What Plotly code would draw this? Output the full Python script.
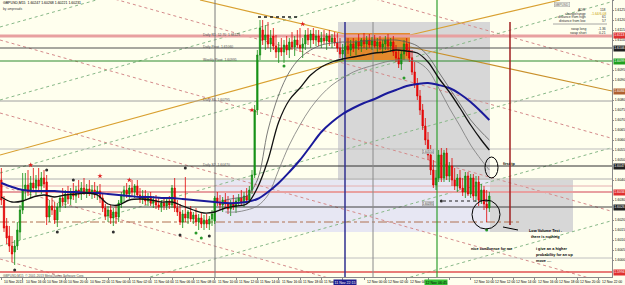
import plotly.graph_objects as go

# ---------------- data: GBPUSD M15 candles (prices) ----------------
opens = [
 1.6040, 1.6030, 1.6017, 1.6012, 1.6007, 1.6004, 1.6007, 1.6014, 1.6025, 1.6035,
 1.60375, 1.6034, 1.60385, 1.6036, 1.6040, 1.6037, 1.6041, 1.6039, 1.60215, 1.6027,
 1.6025, 1.6020, 1.60265, 1.6031, 1.6029, 1.6033, 1.60305, 1.6034, 1.6032, 1.6035,
 1.6033, 1.6036, 1.6034, 1.60355, 1.60335, 1.6035, 1.6033, 1.60345, 1.6031, 1.6026,
 1.6022, 1.6025, 1.6021, 1.6024, 1.60215, 1.60285, 1.6032, 1.6035, 1.6033, 1.6036,
 1.6034, 1.6037, 1.60325, 1.60305, 1.6032, 1.60295, 1.6031, 1.60285, 1.6030, 1.60275,
 1.60265, 1.60285, 1.6027, 1.60295, 1.60275, 1.6036, 1.6026, 1.6024, 1.6019, 1.6023,
 1.6021, 1.6024, 1.60205, 1.60225, 1.6019, 1.6021, 1.6018, 1.6020, 1.6018, 1.60205,
 1.60195, 1.6031, 1.6029, 1.60275, 1.6030, 1.6028, 1.60255, 1.60285, 1.60265, 1.60295,
 1.6031, 1.6029, 1.6032, 1.6030, 1.6035, 1.60425, 1.6075, 1.61025, 1.6115, 1.6110,
 1.61125, 1.6108, 1.6112, 1.6107, 1.6104, 1.6106, 1.6104, 1.61075, 1.6105, 1.6109,
 1.61065, 1.6110, 1.61075, 1.6106, 1.6108, 1.61125, 1.6110, 1.6113, 1.6110, 1.6112,
 1.6109, 1.6111, 1.61095, 1.6112, 1.6109, 1.6111, 1.61085, 1.6106, 1.6103, 1.6105,
 1.6107, 1.6105, 1.6108, 1.6106, 1.6109, 1.6107, 1.6110, 1.6108, 1.6110, 1.61075,
 1.61095, 1.6107, 1.6109, 1.61065, 1.6108, 1.6110, 1.6107, 1.6109, 1.6104, 1.6101,
 1.6098, 1.6103, 1.6108, 1.6105, 1.6101, 1.6094, 1.6088, 1.6082, 1.6075, 1.6067,
 1.6060, 1.60525, 1.6045, 1.60375, 1.6041, 1.60525, 1.6041, 1.60535, 1.6042, 1.6047,
 1.6040, 1.6037, 1.6041, 1.6036, 1.6034, 1.6042, 1.6033, 1.6041, 1.6032, 1.6039,
 1.6030, 1.6035, 1.6028, 1.6026,
]
highs = [
 1.6046, 1.6032, 1.6021, 1.6017, 1.6012, 1.6010, 1.6019, 1.60275, 1.60435, 1.60435,
 1.6045, 1.6042, 1.6046, 1.60425, 1.6046, 1.6044, 1.6045, 1.60425, 1.6030, 1.6031,
 1.6029, 1.60285, 1.60325, 1.6036, 1.6035, 1.6037, 1.6036, 1.60385, 1.6037, 1.6040,
 1.6039, 1.6041, 1.6038, 1.6040, 1.60375, 1.6039, 1.6037, 1.6038, 1.6033, 1.6028,
 1.6027, 1.60275, 1.6026, 1.6027, 1.6030, 1.6034, 1.6037, 1.60385, 1.60375, 1.6040,
 1.6038, 1.6040, 1.6036, 1.6035, 1.6035, 1.60335, 1.6034, 1.6032, 1.60325, 1.6031,
 1.6030, 1.6031, 1.6031, 1.6032, 1.60375, 1.6041, 1.6030, 1.6028, 1.6025, 1.60415,
 1.6025, 1.6027, 1.6024, 1.6026, 1.6023, 1.6024, 1.60225, 1.6023, 1.6022, 1.6025,
 1.6032, 1.6034, 1.60325, 1.60315, 1.60335, 1.6032, 1.6030, 1.60325, 1.6031, 1.6033,
 1.6035, 1.6034, 1.6036, 1.6037, 1.6045, 1.60775, 1.6105, 1.6120, 1.6120, 1.61175,
 1.6119, 1.6115, 1.6116, 1.61125, 1.6109, 1.6111, 1.6110, 1.6112, 1.6111, 1.6114,
 1.6112, 1.6115, 1.6116, 1.6111, 1.6115, 1.6116, 1.6115, 1.6116, 1.6115, 1.6115,
 1.6114, 1.6115, 1.61135, 1.6115, 1.6113, 1.6114, 1.61135, 1.6111, 1.6108, 1.6109,
 1.6111, 1.6110, 1.6111, 1.6110, 1.6113, 1.6111, 1.61135, 1.6112, 1.6113, 1.61115,
 1.61125, 1.6111, 1.6112, 1.6110, 1.6112, 1.6113, 1.6111, 1.6112, 1.61075, 1.6105,
 1.6105, 1.6110, 1.6111, 1.6109, 1.6105, 1.6099, 1.6091, 1.6085, 1.6078, 1.6071,
 1.6064, 1.60575, 1.6050, 1.6045, 1.6055, 1.6056, 1.6055, 1.6056, 1.6049, 1.6051,
 1.6046, 1.6043, 1.6045, 1.6041, 1.6044, 1.6044, 1.6043, 1.6043, 1.6042, 1.6042,
 1.6038, 1.6037, 1.6035, 1.6034,
]
lows = [
 1.60275, 1.6014, 1.6008, 1.6004, 1.5999, 1.59975, 1.6005, 1.6010, 1.6023, 1.6030,
 1.6032, 1.6031, 1.6034, 1.60325, 1.6035, 1.6033, 1.6036, 1.60175, 1.6019, 1.60225,
 1.6018, 1.60165, 1.6024, 1.6027, 1.6026, 1.6028, 1.60275, 1.6030, 1.60285, 1.6031,
 1.6030, 1.60325, 1.6031, 1.6032, 1.60305, 1.6031, 1.6030, 1.60285, 1.6024, 1.6020,
 1.6019, 1.6018, 1.6017, 1.6018, 1.6019, 1.6026, 1.6029, 1.6031, 1.60305, 1.6032,
 1.6031, 1.60315, 1.60285, 1.6028, 1.60275, 1.6027, 1.6027, 1.6026, 1.60255, 1.6025,
 1.6024, 1.6025, 1.6025, 1.60255, 1.6026, 1.6024, 1.6022, 1.60175, 1.6016, 1.6019,
 1.6018, 1.6019, 1.6018, 1.6017, 1.6015, 1.6016, 1.6015, 1.6016, 1.6015, 1.6017,
 1.6018, 1.6027, 1.6025, 1.6024, 1.6026, 1.6023, 1.6022, 1.6025, 1.60235, 1.6027,
 1.60275, 1.60265, 1.6028, 1.60285, 1.6033, 1.6041, 1.60725, 1.6100, 1.61075, 1.6105,
 1.6106, 1.6104, 1.6105, 1.6101, 1.60985, 1.6102, 1.60985, 1.61025, 1.6101, 1.6105,
 1.6102, 1.6106, 1.6104, 1.6101, 1.6105, 1.61075, 1.6106, 1.6108, 1.6107, 1.6107,
 1.6106, 1.6108, 1.6105, 1.6107, 1.6106, 1.6107, 1.6104, 1.6101, 1.6100, 1.6102,
 1.6103, 1.6102, 1.6104, 1.61025, 1.6105, 1.6104, 1.6106, 1.6105, 1.6106, 1.6105,
 1.6106, 1.6104, 1.6105, 1.6103, 1.6105, 1.6105, 1.6104, 1.6102, 1.6099, 1.6096,
 1.6095, 1.6100, 1.6102, 1.6099, 1.60925, 1.6086, 1.6080, 1.60725, 1.6065, 1.60575,
 1.6050, 1.60425, 1.6036, 1.6035, 1.6039, 1.6039, 1.6039, 1.6040, 1.6039, 1.6037,
 1.6035, 1.6034, 1.6035, 1.6032, 1.6031, 1.6032, 1.6031, 1.6030, 1.6029, 1.6027,
 1.6028, 1.6025, 1.6019, 1.6024,
]
closes = [
 1.6030, 1.6016, 1.6011, 1.6007, 1.6003, 1.6007, 1.6015, 1.6025, 1.6035, 1.60375,
 1.6034, 1.60385, 1.6036, 1.6040, 1.6037, 1.6041, 1.6038, 1.60215, 1.6027, 1.6025,
 1.6020, 1.60265, 1.6031, 1.6029, 1.6033, 1.60305, 1.6034, 1.6032, 1.6035, 1.6033,
 1.6036, 1.6034, 1.60355, 1.60335, 1.6035, 1.6033, 1.60345, 1.6031, 1.6026, 1.6022,
 1.6025, 1.6021, 1.6024, 1.60215, 1.60285, 1.6032, 1.6035, 1.6033, 1.6036, 1.6034,
 1.6037, 1.60325, 1.60305, 1.6032, 1.60295, 1.6031, 1.60285, 1.6030, 1.60275, 1.60265,
 1.60285, 1.6027, 1.60295, 1.60275, 1.6036, 1.6026, 1.6024, 1.6019, 1.6023, 1.6021,
 1.6024, 1.60205, 1.60225, 1.6019, 1.6021, 1.6018, 1.6020, 1.6018, 1.60205, 1.6023,
 1.6031, 1.6029, 1.60275, 1.6030, 1.6028, 1.60255, 1.60285, 1.60265, 1.60295, 1.6031,
 1.6029, 1.6032, 1.6030, 1.6035, 1.60425, 1.6075, 1.61025, 1.6116, 1.6110, 1.61125,
 1.6108, 1.6111, 1.6107, 1.6104, 1.6106, 1.6104, 1.61075, 1.6105, 1.6109, 1.61065,
 1.6110, 1.61075, 1.6106, 1.6108, 1.61125, 1.6110, 1.6113, 1.6110, 1.6112, 1.6109,
 1.6111, 1.61095, 1.6112, 1.6109, 1.6111, 1.61085, 1.6106, 1.6103, 1.6105, 1.6107,
 1.6105, 1.6108, 1.6106, 1.6109, 1.6107, 1.6110, 1.6108, 1.6110, 1.61075, 1.61095,
 1.6107, 1.6109, 1.61065, 1.6108, 1.6110, 1.6107, 1.6109, 1.6104, 1.6101, 1.6098,
 1.6103, 1.6108, 1.6105, 1.6101, 1.6094, 1.6088, 1.6082, 1.6075, 1.6067, 1.6060,
 1.60525, 1.6045, 1.60375, 1.6041, 1.60525, 1.6041, 1.60535, 1.6042, 1.6047, 1.6040,
 1.6037, 1.6041, 1.6036, 1.6034, 1.6042, 1.6033, 1.6041, 1.6032, 1.6039, 1.6030,
 1.6035, 1.6028, 1.6026, 1.6032,
]
bar_index = list(range(len(closes)))

# moving averages (sampled every 4 bars)
ma_bars = list(range(0, 181, 4)) + [183]
ma_slow = [1.60385, 1.60365, 1.6035, 1.60345, 1.60345, 1.60345, 1.6034, 1.6034, 1.60335, 1.60335,
           1.6033, 1.60325, 1.6032, 1.60315, 1.60315, 1.6031, 1.6031, 1.60305, 1.6030, 1.60295,
           1.6029, 1.60285, 1.60285, 1.6029, 1.60305, 1.6034, 1.60385, 1.6044, 1.6050, 1.6057,
           1.6064, 1.6069, 1.6073, 1.6076, 1.60785, 1.60805, 1.6083, 1.6085, 1.6087, 1.6088,
           1.60885, 1.60875, 1.6086, 1.6083, 1.6079, 1.6074, 1.6070]
ma_fast = [1.60315, 1.6029, 1.60295, 1.60315, 1.60325, 1.60315, 1.60325, 1.6033, 1.60335, 1.60325,
           1.6028, 1.60275, 1.6030, 1.60305, 1.6030, 1.6029, 1.6029, 1.6027, 1.6025, 1.60235,
           1.6024, 1.6026, 1.6027, 1.6028, 1.6036, 1.6050, 1.6069, 1.6080, 1.6086, 1.60925,
           1.60965, 1.6099, 1.61005, 1.61015, 1.61025, 1.61035, 1.6104, 1.6105, 1.61045, 1.61035,
           1.6099, 1.6091, 1.6084, 1.6076, 1.60675, 1.6060, 1.6055]
band_bars = list(range(84, 181, 4)) + [183]
band_upper = [1.6030, 1.6031, 1.6032, 1.6040, 1.6065, 1.60825, 1.6094, 1.6101, 1.6105, 1.61075,
              1.61085, 1.6109, 1.6109, 1.61095, 1.6110, 1.6110, 1.6110, 1.6109, 1.6107, 1.6102,
              1.6094, 1.6086, 1.6078, 1.6070, 1.6064, 1.6060]
band_lower = [1.6024, 1.6024, 1.6025, 1.6027, 1.60325, 1.6045, 1.60575, 1.60675, 1.6076, 1.60825,
              1.60875, 1.6091, 1.6094, 1.6096, 1.60975, 1.6099, 1.6100, 1.6100, 1.6099, 1.6095,
              1.6086, 1.6076, 1.6067, 1.60575, 1.6050, 1.6045]

# fractal / signal markers
frac_dark_bars = [17, 27, 21, 5, 42, 67, 69, 78, 165]
frac_dark_prices = [1.6045, 1.6040, 1.6014, 1.5995, 1.6014, 1.60125, 1.6046, 1.6012, 1.60295]
frac_red_bars = [11, 37, 48, 94, 113]
frac_red_prices = [1.60475, 1.6042, 1.6040, 1.6075, 1.6118]
frac_green_bars = [73, 75, 106, 151, 182]
frac_green_prices = [1.60135, 1.6011, 1.6097, 1.6091, 1.6015]

# price levels marked on the price scale (line price, box colour)
scale_box_prices = [1.61125, 1.6106, 1.60995, 1.60845, 1.6047, 1.6034, 1.60265, 1.5994]
scale_box_colors = ["#E03030", "#202020", "#20A020", "#B06030", "#202020", "#E03030", "#202020", "#E03030"]

# time axis
time_tick_bars = list(range(0, 225, 8))
time_tick_labels = [
 "10 Nov 2013", "10 Nov 16:00", "10 Nov 18:00", "10 Nov 20:00", "10 Nov 22:00",
 "11 Nov 00:00", "11 Nov 02:00", "11 Nov 04:00", "11 Nov 06:00", "11 Nov 08:00",
 "11 Nov 10:00", "11 Nov 12:00", "11 Nov 14:00", "11 Nov 16:00", "11 Nov 18:00",
 "11 Nov 20:00", "11 Nov 22:00", "12 Nov 00:00", "12 Nov 02:00", "12 Nov 04:00",
 "12 Nov 06:00", "12 Nov 08:00", "12 Nov 10:00", "12 Nov 12:00", "12 Nov 14:00",
 "12 Nov 16:00", "12 Nov 18:00", "12 Nov 20:00", "12 Nov 22:00",
]
# times of the two vertical lines (shown highlighted on the time scale)
vline_bars = [129, 163]
vline_labels = ["11 Nov 22:15", "12 Nov 06:45"]

# ---------------- geometry helpers for drawn objects ----------------
W_PLOT, H_PLOT = 612, 277
X_MIN, X_MAX = -0.5, 229.0
Y_MIN, Y_MAX = 1.59915, 1.61300
BG = "#FFFFEE"
FONT = "Liberation Sans"


def bx(px):
    return X_MIN + px * (X_MAX - X_MIN) / W_PLOT


def py(y):
    return Y_MAX - y * (Y_MAX - Y_MIN) / H_PLOT


shapes = []
annots = []


def seg(x0, y0, x1, y1, color, width=1.0, dash="solid", layer="below"):
    shapes.append(dict(type="line", xref="x", yref="y", x0=bx(x0), y0=py(y0), x1=bx(x1), y1=py(y1),
                       line=dict(color=color, width=width, dash=dash), layer=layer))


def rect(x0, y0, x1, y1, fill, line_color=None, layer="below"):
    shapes.append(dict(type="rect", xref="x", yref="y", x0=bx(x0), y0=py(y0), x1=bx(x1), y1=py(y1),
                       fillcolor=fill, line=dict(width=0 if line_color is None else 1,
                                                 color=line_color or fill), layer=layer))


def ellipse(x0, y0, x1, y1, color="#000000", width=1.0):
    shapes.append(dict(type="circle", xref="x", yref="y", x0=bx(x0), y0=py(y0), x1=bx(x1), y1=py(y1),
                       line=dict(color=color, width=width), layer="above"))


def text(px, ypx, s, size=3.6, color="#000000", xanchor="left", yanchor="middle", bold=False, **kw):
    if bold:
        s = "<b>" + s + "</b>"
    annots.append(dict(xref="x", yref="y", x=bx(px), y=py(ypx), text=s, showarrow=False,
                       xanchor=xanchor, yanchor=yanchor, font=dict(size=size, color=color, family=FONT),
                       borderpad=0, **kw))


# rectangles (zones)
rect(338, 22, 490, 180, "#D7D7D7")
rect(215, 180, 490, 232, "#E7E7F3")
rect(490, 180, 573, 232, "#D7D7D7")
rect(345, 33, 410, 60, "#E3892C")

# diagonal lattice (dotted)
for k in range(-3, 4):
    y0 = 40 + 73 * k
    seg(0, y0, W_PLOT, y0 + 0.28 * W_PLOT, "#D48A8A", 1, "dot")
for k in range(0, 7):
    y0 = 27 + 73 * k
    seg(0, y0, W_PLOT, y0 - 0.28 * W_PLOT, "#88B888", 1, "dot")

# orange trend lines
seg(0, 155, 345, 60, "#D9A030", 1.2)
seg(200, 0, 345, 34, "#D9A030", 1.2)
seg(410, 35, 560, 0, "#D9A030", 1.2)
seg(410, 47, 612, 91, "#C9902A", 1.2)

# horizontal levels
seg(0, 36, 612, 36, "#E8A0A0", 3)
seg(0, 48, 612, 48, "#505050", 1)
seg(0, 61, 612, 61, "#2E8B2E", 1)
seg(0, 101, 612, 101, "#A0A0A0", 1)
seg(0, 149, 612, 149, "#BDBDBD", 1)
seg(0, 166, 612, 166, "#303030", 1)
seg(0, 179, 612, 179, "#B0B0B0", 1)
seg(0, 186, 612, 186, "#E6B0B0", 1)
seg(0, 192, 612, 192, "#E8A0A0", 2)
seg(0, 207, 612, 207, "#404040", 1)
seg(0, 222, 520, 222, "#B07050", 1, "dashdot")
seg(0, 258, 612, 258, "#C0C0C0", 1)
seg(0, 272, 612, 272, "#E05050", 1.5)

# vertical lines
seg(215, 0, 215, 277, "#7A7A7A", 1)
seg(345, 22, 345, 277, "#303090", 1.5)
seg(373, 22, 373, 277, "#8A8A8A", 1)
seg(437, 0, 437, 277, "#2FA02F", 1.2)
seg(510, 22, 510, 225, "#A02020", 1.5)

# dotted marker rows
seg(258, 17, 300, 17, "#202020", 1.5, "dot", "above")
seg(443, 201, 490, 201, "#202020", 1.2, "dot", "above")

# ellipses + pointer
ellipse(485, 157, 498, 178)
ellipse(472, 200, 500, 229)
seg(503, 227, 518, 230, "#000000", 1, "solid", "above")

# level captions
text(202, 35, "Daily R1  12.70  1.61125", 3.4, "#505050")
text(202, 47, "Daily Pivot  1.61060", 3.4, "#505050")
text(202, 60, "Weekly Pivot  1.60995", 3.4, "#505050")
text(202, 100, "Daily S1  1.60795", 3.4, "#505050")
text(202, 165, "Daily S2  1.60470", 3.4, "#505050")

# small price tags on chart
text(422, 151, "1.60550", 3, "#404040", bgcolor="#E6E6E6", bordercolor="#999999", borderwidth=0.5)
text(422, 203, "1.60285", 3, "#404040", bgcolor="#E6E6E6", bordercolor="#999999", borderwidth=0.5)

# comments
text(502, 164, "first tp", 3.8, bold=True)
text(528, 231, "Low Volume Test -", 3.8, bold=True)
text(530, 237, "there is nothing", 3.8, bold=True)
text(470, 249, "nice confluence for me", 3.8, bold=True)
text(535, 249, "i give an a higher", 3.8, bold=True)
text(535, 255, "probability for an up", 3.8, bold=True)
text(535, 261, "move ....", 3.8, bold=True)

# header
text(2, 3, "GBPUSD,M15  1.60247 1.60268 1.60221 1.60231", 3.5)
text(2, 9, "by ampreads", 3.3, "#404040")
text(2, 275.5, "GBPUSD,M15  \u00a9 2001-2013 MetaQuotes Software Corp.", 3.2, "#505050")

# info panel (top right)
text(562, 4, "GBPUSD", 3.3, "#707070", xanchor="center", bgcolor="#F4F4E6", bordercolor="#A0A0A0", borderwidth=0.5)
panel = [(10, "ADR", "118", "#303030"), (13.5, "change/range", "-1.64/6.08", "#C8A000"),
         (17, "distance from high", "61", "#303030"), (20.5, "distance from low", "57", "#303030"),
         (29, "swap long", "-1.36", "#303030"), (33, "swap short", "0.21", "#303030")]
for yy, lab, val, vc in panel:
    text(587, yy, lab, 3.4, "#303030", xanchor="right")
    text(607, yy, val, 3.4, vc, xanchor="right")
seg(553, 24, 607, 24, "#909090", 0.8, "solid", "above")

# coloured price boxes on the price scale
for price, col in zip(scale_box_prices, scale_box_colors):
    annots.append(dict(xref="paper", yref="y", x=1, y=price, xanchor="left", yanchor="middle",
                       xshift=0.5, text=f"{price:.4f}", showarrow=False, bgcolor=col, borderpad=0.3,
                       font=dict(size=3.4, color="#FFFFFF", family=FONT)))

# price scale ticks; the ones covered by coloured boxes are not printed
price_ticks = []
k = 0
while 1.5995 + 0.0005 * k <= Y_MAX:
    t = round(1.5995 + 0.0005 * k, 4)
    if all(abs(t - p) > 0.00024 for p in scale_box_prices):
        price_ticks.append(t)
    k += 1

# time axis labels (left aligned at their ticks); labels hidden under the highlighted times are skipped
hl_spans = [(bx(333), bx(358)), (bx(424), bx(450))]
for b, lab in zip(time_tick_bars, time_tick_labels):
    if any(a - 1 <= b <= c for a, c in hl_spans):
        continue
    annots.append(dict(xref="x", yref="paper", x=b, y=0, xanchor="left", yanchor="top", yshift=-1,
                       xshift=1, text=lab, showarrow=False,
                       font=dict(size=3.4, color="#000000", family=FONT)))
for (b, lab), bg, fc in zip(zip(vline_bars, vline_labels), ["#1C1C8C", "#33C033"], ["#FFFFFF", "#000000"]):
    annots.append(dict(xref="x", yref="y", x=b, y=Y_MIN, yanchor="top", xanchor="center", yshift=-1.5,
                       text=lab, showarrow=False, bgcolor=bg, borderpad=0.5,
                       font=dict(size=3.6, color=fc, family=FONT)))

# ---------------- traces ----------------
fig = go.Figure()
fig.add_trace(go.Candlestick(
    x=bar_index, open=opens, high=highs, low=lows, close=closes,
    increasing=dict(line=dict(color="#108A10", width=0.8), fillcolor="#1E9E1E"),
    decreasing=dict(line=dict(color="#E00000", width=0.8), fillcolor="#EE1010"),
    whiskerwidth=0, showlegend=False, hoverinfo="skip"))
fig.add_trace(go.Scatter(x=band_bars, y=band_upper, mode="lines", line=dict(color="#5A5A5A", width=0.8, shape="spline"),
                         showlegend=False, hoverinfo="skip"))
fig.add_trace(go.Scatter(x=band_bars, y=band_lower, mode="lines", line=dict(color="#7A7A7A", width=0.8, shape="spline"),
                         showlegend=False, hoverinfo="skip"))
fig.add_trace(go.Scatter(x=ma_bars, y=ma_slow, mode="lines", line=dict(color="#1A1A9A", width=2, shape="spline"),
                         showlegend=False, hoverinfo="skip"))
fig.add_trace(go.Scatter(x=ma_bars, y=ma_fast, mode="lines", line=dict(color="#111111", width=1.3, shape="spline"),
                         showlegend=False, hoverinfo="skip"))
fig.add_trace(go.Scatter(x=frac_dark_bars, y=frac_dark_prices, mode="markers",
                         marker=dict(color="#303030", size=3), showlegend=False, hoverinfo="skip"))
fig.add_trace(go.Scatter(x=frac_red_bars, y=frac_red_prices, mode="markers",
                         marker=dict(color="#E02020", size=4, symbol="star"), showlegend=False, hoverinfo="skip"))
fig.add_trace(go.Scatter(x=frac_green_bars, y=frac_green_prices, mode="markers",
                         marker=dict(color="#2A9A2A", size=3), showlegend=False, hoverinfo="skip"))

fig.update_layout(
    width=625, height=285,
    margin=dict(l=0, r=13, t=0, b=8, pad=0),
    paper_bgcolor=BG, plot_bgcolor=BG,
    shapes=shapes, annotations=annots,
    showlegend=False,
    font=dict(family=FONT, size=4.5, color="#000000"),
    xaxis=dict(range=[X_MIN, X_MAX], rangeslider=dict(visible=False), showgrid=False, zeroline=False,
               showline=True, linecolor="#8A8A8A", linewidth=1, ticks="outside", ticklen=2,
               tickcolor="#8A8A8A", tickvals=time_tick_bars, showticklabels=False, automargin=False,
               fixedrange=True),
    yaxis=dict(range=[Y_MIN, Y_MAX], side="right", showgrid=False, zeroline=False, showline=True,
               linecolor="#8A8A8A", linewidth=1, ticks="outside", ticklen=1, tickcolor="#8A8A8A",
               tickvals=price_ticks, tickformat=".4f", tickfont=dict(size=3.4, color="#000000", family=FONT),
               automargin=False, fixedrange=True),
)

fig.write_html("out.html")
